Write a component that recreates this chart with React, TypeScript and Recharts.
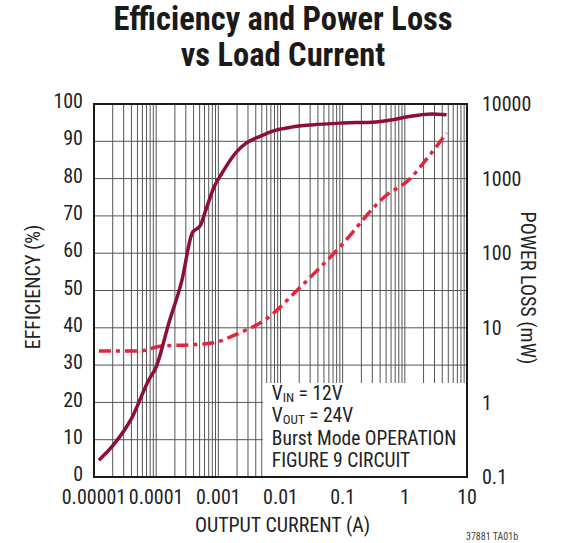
import { ComposedChart, Line, XAxis, YAxis, CartesianGrid, ReferenceArea } from "recharts";

// x axis (A), log decades
const currentDecades = [0.00001, 0.0001, 0.001, 0.01, 0.1, 1, 10];
const currentLabels = ["0.00001", "0.0001", "0.001", "0.01", "0.1", "1", "10"];

// left axis (%)
const efficiencyTicks = [0, 10, 20, 30, 40, 50, 60, 70, 80, 90, 100];

// right axis (mW), log
const powerLossTicks = [0.1, 1, 10, 100, 1000, 10000];

// efficiency curve
const effCurrent = [
  0.000012, 0.000021, 0.000041, 0.000076, 0.0001, 0.00016, 0.00026, 0.00038, 0.00052,
  0.00063, 0.00085, 0.00115, 0.0019, 0.0028, 0.0045, 0.0085, 0.015, 0.032, 0.1, 0.34,
  0.6, 1.06, 2.7, 4.7,
];
const efficiency = [
  4.5, 8.8, 16, 26, 29.5, 41.3, 52.8, 65.4, 67.6, 71.6, 77.7, 81.5, 86.9, 89.5, 91.2,
  93.0, 93.8, 94.4, 94.9, 95.2, 95.7, 96.5, 97.3, 97.1,
];

// power loss curve
const lossCurrent = [
  0.000012, 0.000053, 0.000124, 0.00034, 0.00079, 0.00215, 0.0058, 0.02, 0.087, 0.51,
  1.15, 2.18, 4.7,
];
const powerLoss = [4.9, 4.9, 5.7, 5.9, 6.25, 8.5, 13, 34, 117, 603, 955, 1780, 4070];

const noteLines = [
  { v: "V", sub: "IN", text: " = 12V" },
  { v: "V", sub: "OUT", text: " = 24V" },
  { v: "", sub: "", text: "Burst Mode OPERATION" },
  { v: "", sub: "", text: "FIGURE 9 CIRCUIT" },
];

const FONT =
  "'Liberation Sans Narrow', 'Roboto Condensed', 'DejaVu Sans Condensed', 'Liberation Sans', Arial, sans-serif";
const TEXT = "#222";
const GRID = "#555";
const EFF_COLOR = "#8c1036";
const LOSS_COLOR = "#e2253d";

const gridTicks = currentDecades
  .slice(0, -1)
  .flatMap((d) => [1, 2, 3, 4, 5, 6, 7, 8, 9].map((m) => +(m * d).toPrecision(3)))
  .concat([10]);

const effData = effCurrent.map((x, i) => ({ x, eff: efficiency[i] }));
const lossData = lossCurrent.map((x, i) => ({ x, loss: powerLoss[i] }));

function currentLabel(v: number) {
  const i = currentDecades.findIndex((d) => Math.abs(d - v) / d < 1e-6);
  return i >= 0 ? currentLabels[i] : "";
}

function NoteLabel(props: any) {
  const vb = props.viewBox || {};
  const x = vb.x + 9;
  const y = vb.y;
  return (
    <g fontFamily={FONT} fontSize={19.5} fill={TEXT}>
      {noteLines.map((l, i) => (
        <text key={i} x={x} y={y + 17 + i * 22.3}>
          {l.v}
          {l.sub && (
            <tspan fontSize={13} dy={2}>
              {l.sub}
            </tspan>
          )}
          <tspan dy={l.sub ? -2 : 0}>{l.text}</tspan>
        </text>
      ))}
    </g>
  );
}

export default function App() {
  return (
    <div style={{ position: "absolute", left: 0, top: 0, width: 584, height: 543, background: "#fff" }}>
      <ComposedChart
        width={584}
        height={543}
        margin={{ top: 104, right: 57, bottom: 36, left: 34 }}
      >
        <CartesianGrid yAxisId="eff" stroke={GRID} strokeWidth={1} />
        <XAxis
          dataKey="x"
          type="number"
          scale="log"
          domain={[0.00001, 10]}
          ticks={gridTicks}
          interval={0}
          allowDataOverflow
          tickFormatter={currentLabel}
          tick={{ fontSize: 20, fill: TEXT, fontFamily: FONT }}
          tickLine={false}
          axisLine={false}
          tickSize={0}
          tickMargin={13}
          height={30}
        />
        <YAxis
          yAxisId="eff"
          type="number"
          domain={[0, 100]}
          ticks={efficiencyTicks}
          interval={0}
          tick={{ fontSize: 20, fill: TEXT, fontFamily: FONT, dy: -3 }}
          tickLine={false}
          axisLine={false}
          tickSize={0}
          tickMargin={11}
          width={60}
        />
        <YAxis
          yAxisId="loss"
          orientation="right"
          type="number"
          scale="log"
          domain={[0.1, 10000]}
          ticks={powerLossTicks}
          interval={0}
          allowDataOverflow
          tick={{ fontSize: 20, fill: TEXT, fontFamily: FONT }}
          tickLine={false}
          axisLine={false}
          tickSize={0}
          tickMargin={15}
          width={60}
        />
        <ReferenceArea
          yAxisId="eff"
          x1={0.0052}
          x2={10}
          y1={0}
          y2={25.2}
          fill="#fff"
          fillOpacity={1}
          stroke="none"
          label={<NoteLabel />}
        />
        <ReferenceArea
          yAxisId="eff"
          x1={0.00001}
          x2={10}
          y1={0}
          y2={100}
          fill="none"
          stroke="#1a1a1a"
          strokeWidth={2}
        />
        <Line
          yAxisId="loss"
          data={lossData}
          dataKey="loss"
          type="monotone"
          stroke={LOSS_COLOR}
          strokeWidth={3.5}
          strokeDasharray="12 5 4 5"
          dot={false}
          isAnimationActive={false}
        />
        <Line
          yAxisId="eff"
          data={effData}
          dataKey="eff"
          type="monotone"
          stroke={EFF_COLOR}
          strokeWidth={3.5}
          dot={false}
          isAnimationActive={false}
        />
      </ComposedChart>
      <svg
        width={584}
        height={543}
        style={{ position: "absolute", left: 0, top: 0, pointerEvents: "none" }}
        fontFamily={FONT}
      >
        <text x={283} y={30} textAnchor="middle" fontSize={32.5} fontWeight="bold" fill="#1a1a1a">
          Efficiency and Power Loss
        </text>
        <text x={283} y={66} textAnchor="middle" fontSize={32.5} fontWeight="bold" fill="#1a1a1a">
          vs Load Current
        </text>
        <text x={282.5} y={532} textAnchor="middle" fontSize={20} fill={TEXT}>
          OUTPUT CURRENT (A)
        </text>
        <text
          x={0}
          y={0}
          transform="translate(40 287) rotate(-90)"
          textAnchor="middle"
          fontSize={20}
          fill={TEXT}
        >
          EFFICIENCY (%)
        </text>
        <text
          x={0}
          y={0}
          transform="translate(521 288) rotate(90)"
          textAnchor="middle"
          fontSize={20}
          fill={TEXT}
        >
          POWER LOSS (mW)
        </text>
        <text x={466} y={540} fontSize={10} fill="#444">
          37881 TA01b
        </text>
      </svg>
    </div>
  );
}
